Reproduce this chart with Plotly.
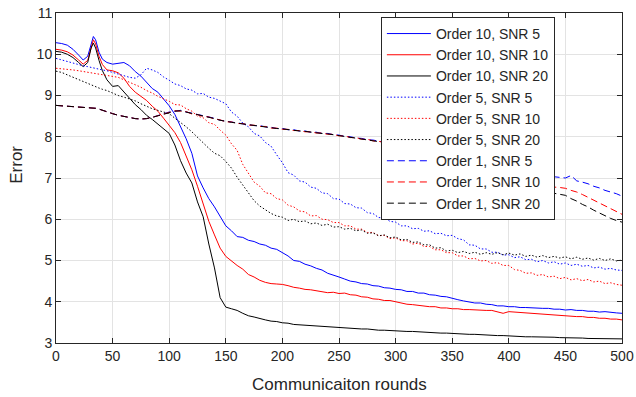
import plotly.graph_objects as go

# ---------------- data ----------------
rounds = [0, 5, 10, 15, 20, 24, 28, 31, 33, 35, 38, 41, 45] + list(range(50, 505, 5))

o10_snr5 = [10.28, 10.26, 10.22, 10.12, 9.98, 9.86, 9.95, 10.25, 10.43, 10.35, 10.05, 9.88, 9.80,
            9.76, 9.78, 9.80, 9.72, 9.58, 9.47, 9.32, 9.17, 9.08, 8.92,
            8.75, 8.54, 8.24, 7.95, 7.60, 7.05, 6.76, 6.50, 6.30, 6.06,
            5.84, 5.72, 5.58, 5.56, 5.49, 5.46, 5.40, 5.37, 5.30, 5.27,
            5.19, 5.11, 5.00, 4.98, 4.91, 4.87, 4.81, 4.77, 4.69, 4.65,
            4.60, 4.55, 4.50, 4.48, 4.44, 4.43, 4.39, 4.38, 4.34, 4.33,
            4.30, 4.29, 4.25, 4.25, 4.21, 4.21, 4.17, 4.16, 4.13, 4.12,
            4.08, 4.05, 4.02, 4.00, 3.97, 3.97, 3.94, 3.93, 3.90, 3.90,
            3.88, 3.88, 3.86, 3.86, 3.85, 3.85, 3.84, 3.84, 3.82, 3.82,
            3.80, 3.81, 3.79, 3.79, 3.77, 3.77, 3.75, 3.76, 3.74, 3.73,
            3.72]

o10_snr10 = [10.12, 10.10, 10.06, 9.98, 9.86, 9.76, 9.85, 10.18, 10.35, 10.25, 9.95, 9.75, 9.62,
             9.60, 9.55, 9.42, 9.22, 9.08, 8.98, 8.88, 8.74, 8.62, 8.45,
             8.28, 8.10, 7.86, 7.55, 7.20, 6.80, 6.36, 5.95, 5.62, 5.30,
             5.10, 4.98, 4.88, 4.79, 4.66, 4.60, 4.52, 4.47, 4.44, 4.43,
             4.42, 4.39, 4.35, 4.33, 4.30, 4.29, 4.27, 4.25, 4.22, 4.23,
             4.20, 4.21, 4.17, 4.16, 4.12, 4.11, 4.07, 4.06, 4.03, 4.03,
             4.00, 3.98, 3.94, 3.93, 3.91, 3.90, 3.88, 3.88, 3.85, 3.85,
             3.83, 3.83, 3.81, 3.81, 3.80, 3.80, 3.79, 3.79, 3.76, 3.72,
             3.76, 3.75, 3.74, 3.73, 3.71, 3.71, 3.69, 3.69, 3.67, 3.67,
             3.65, 3.65, 3.64, 3.64, 3.62, 3.62, 3.60, 3.60, 3.58, 3.58,
             3.56]

o10_snr20 = [10.07, 10.05, 10.00, 9.92, 9.80, 9.70, 9.80, 10.15, 10.27, 10.15, 9.85, 9.60, 9.38,
             9.22, 9.24, 9.08, 8.92, 8.78, 8.66, 8.52, 8.42, 8.30, 8.20,
             8.08, 7.80, 7.42, 7.12, 6.88, 6.42, 6.06, 5.40, 4.82, 4.10,
             3.87, 3.83, 3.79, 3.72, 3.66, 3.63, 3.59, 3.56, 3.53, 3.52,
             3.49, 3.48, 3.45, 3.44, 3.43, 3.43, 3.41, 3.40, 3.39, 3.39,
             3.37, 3.36, 3.36, 3.35, 3.34, 3.34, 3.32, 3.31, 3.31, 3.30,
             3.30, 3.29, 3.28, 3.28, 3.27, 3.26, 3.26, 3.25, 3.24, 3.24,
             3.23, 3.22, 3.22, 3.21, 3.21, 3.20, 3.20, 3.19, 3.18, 3.18,
             3.17, 3.16, 3.16, 3.15, 3.15, 3.15, 3.14, 3.14, 3.14, 3.13,
             3.13, 3.12, 3.12, 3.12, 3.11, 3.11, 3.11, 3.11, 3.10, 3.10,
             3.10]

o5_snr5 = [9.90, 9.86, 9.82, 9.78, 9.74, 9.72, 9.70, 9.68, 9.66, 9.65, 9.63, 9.62, 9.60,
           9.56, 9.52, 9.48, 9.44, 9.42, 9.50, 9.66, 9.62, 9.56, 9.45,
           9.37, 9.28, 9.24, 9.16, 9.13, 9.04, 9.05, 8.96, 8.93, 8.86,
           8.80, 8.60, 8.50, 8.33, 8.24, 8.08, 8.02, 7.86, 7.77, 7.56,
           7.37, 7.13, 7.07, 6.93, 6.90, 6.78, 6.75, 6.64, 6.62, 6.50,
           6.49, 6.38, 6.37, 6.28, 6.27, 6.16, 6.14, 6.04, 6.04, 5.95,
           5.93, 5.84, 5.84, 5.77, 5.78, 5.71, 5.72, 5.65, 5.66, 5.60,
           5.61, 5.53, 5.50, 5.38, 5.37, 5.28, 5.28, 5.20, 5.20, 5.13,
           5.14, 5.07, 5.09, 5.02, 5.03, 4.97, 5.00, 4.94, 4.97, 4.91,
           4.94, 4.88, 4.91, 4.86, 4.88, 4.82, 4.84, 4.79, 4.81, 4.77,
           4.76]

o5_snr10 = [9.66, 9.65, 9.63, 9.62, 9.60, 9.58, 9.56, 9.55, 9.54, 9.53, 9.51, 9.50, 9.48,
            9.46, 9.44, 9.38, 9.32, 9.26, 9.20, 9.12, 9.06, 8.98, 8.92,
            8.86, 8.78, 8.77, 8.68, 8.62, 8.50, 8.46, 8.34, 8.30, 8.16,
            8.04, 7.83, 7.67, 7.33, 7.12, 6.90, 6.80, 6.64, 6.62, 6.50,
            6.47, 6.34, 6.30, 6.20, 6.18, 6.08, 6.09, 6.00, 5.99, 5.92,
            5.92, 5.84, 5.84, 5.76, 5.76, 5.68, 5.68, 5.60, 5.61, 5.53,
            5.55, 5.48, 5.48, 5.40, 5.42, 5.34, 5.34, 5.26, 5.26, 5.19,
            5.19, 5.11, 5.11, 5.04, 5.05, 4.99, 5.00, 4.93, 4.95, 4.88,
            4.88, 4.78, 4.76, 4.69, 4.70, 4.64, 4.66, 4.60, 4.62, 4.56,
            4.59, 4.53, 4.56, 4.51, 4.54, 4.48, 4.50, 4.44, 4.46, 4.42,
            4.40]

o5_snr20 = [9.59, 9.56, 9.50, 9.44, 9.38, 9.33, 9.30, 9.26, 9.23, 9.21, 9.18, 9.15, 9.12,
            9.06, 9.00, 8.96, 8.92, 8.87, 8.80, 8.74, 8.68, 8.64, 8.60,
            8.56, 8.45, 8.35, 8.24, 8.12, 7.98, 7.84, 7.72, 7.60, 7.54,
            7.40, 7.24, 7.02, 6.82, 6.62, 6.45, 6.32, 6.23, 6.14, 6.08,
            6.05, 5.97, 6.00, 5.94, 5.96, 5.89, 5.91, 5.85, 5.88, 5.81,
            5.82, 5.76, 5.78, 5.72, 5.74, 5.66, 5.67, 5.60, 5.62, 5.55,
            5.57, 5.50, 5.51, 5.44, 5.45, 5.38, 5.38, 5.30, 5.31, 5.23,
            5.25, 5.19, 5.22, 5.17, 5.20, 5.15, 5.19, 5.15, 5.19, 5.14,
            5.18, 5.13, 5.16, 5.10, 5.13, 5.08, 5.12, 5.07, 5.10, 5.06,
            5.09, 5.04, 5.08, 5.03, 5.06, 5.01, 5.05, 5.00, 5.04, 4.99,
            5.01]

o1_snr5 = [8.76, 8.75, 8.74, 8.73, 8.72, 8.71, 8.71, 8.71, 8.70, 8.69, 8.67, 8.64, 8.60,
           8.56, 8.52, 8.49, 8.46, 8.44, 8.43, 8.44, 8.47, 8.51, 8.55,
           8.60, 8.62, 8.64, 8.60, 8.57, 8.53, 8.51, 8.47, 8.45, 8.40,
           8.38, 8.35, 8.34, 8.31, 8.30, 8.27, 8.27, 8.24, 8.23, 8.20,
           8.20, 8.17, 8.17, 8.14, 8.14, 8.11, 8.11, 8.08, 8.08, 8.05,
           8.04, 8.01, 8.00, 7.97, 7.96, 7.93, 7.92, 7.89, 7.87, 7.85,
           7.83, 7.80, 7.78, 7.75, 7.73, 7.70, 7.67, 7.64, 7.62, 7.59,
           7.56, 7.53, 7.50, 7.47, 7.44, 7.41, 7.38, 7.35, 7.32, 7.29,
           7.26, 7.23, 7.20, 7.17, 7.14, 7.11, 7.08, 7.05, 7.03, 7.02,
           7.00, 7.06, 6.93, 6.90, 6.86, 6.80, 6.76, 6.70, 6.66, 6.62,
           6.56]

o1_snr10 = [8.76, 8.75, 8.74, 8.73, 8.72, 8.71, 8.71, 8.71, 8.70, 8.69, 8.67, 8.64, 8.60,
            8.56, 8.52, 8.49, 8.46, 8.44, 8.43, 8.44, 8.47, 8.51, 8.55,
            8.58, 8.63, 8.62, 8.61, 8.55, 8.54, 8.49, 8.48, 8.43, 8.41,
            8.36, 8.36, 8.32, 8.32, 8.28, 8.28, 8.25, 8.25, 8.21, 8.21,
            8.18, 8.18, 8.15, 8.15, 8.12, 8.12, 8.09, 8.09, 8.06, 8.06,
            8.02, 8.02, 7.98, 7.98, 7.94, 7.94, 7.90, 7.89, 7.86, 7.83,
            7.80, 7.76, 7.72, 7.68, 7.64, 7.60, 7.56, 7.52, 7.48, 7.44,
            7.40, 7.36, 7.32, 7.28, 7.24, 7.20, 7.16, 7.12, 7.08, 7.04,
            7.01, 6.98, 6.95, 6.92, 6.89, 6.86, 6.83, 6.80, 6.78, 6.77,
            6.75, 6.70, 6.66, 6.60, 6.53, 6.47, 6.40, 6.33, 6.26, 6.19,
            6.12]

o1_snr20 = [8.76, 8.75, 8.74, 8.73, 8.72, 8.71, 8.71, 8.71, 8.70, 8.69, 8.67, 8.64, 8.60,
            8.56, 8.52, 8.49, 8.46, 8.44, 8.43, 8.44, 8.47, 8.51, 8.55,
            8.59, 8.62, 8.63, 8.60, 8.56, 8.53, 8.50, 8.47, 8.44, 8.40,
            8.37, 8.35, 8.33, 8.31, 8.29, 8.27, 8.26, 8.24, 8.22, 8.20,
            8.19, 8.17, 8.16, 8.14, 8.13, 8.11, 8.10, 8.08, 8.07, 8.05,
            8.03, 8.01, 7.99, 7.97, 7.95, 7.93, 7.91, 7.89, 7.86, 7.82,
            7.78, 7.74, 7.70, 7.65, 7.61, 7.57, 7.52, 7.48, 7.44, 7.39,
            7.35, 7.31, 7.26, 7.22, 7.18, 7.14, 7.10, 7.05, 7.01, 6.97,
            6.93, 6.89, 6.85, 6.81, 6.77, 6.73, 6.69, 6.66, 6.63, 6.60,
            6.58, 6.50, 6.44, 6.36, 6.30, 6.22, 6.15, 6.08, 6.02, 5.97,
            5.93]

series_names = ["Order 10, SNR 5", "Order 10, SNR 10", "Order 10, SNR 20",
                "Order 5, SNR 5", "Order 5, SNR 10", "Order 5, SNR 20",
                "Order 1, SNR 5", "Order 1, SNR 10", "Order 1, SNR 20"]
series_values = [o10_snr5, o10_snr10, o10_snr20,
                 o5_snr5, o5_snr10, o5_snr20,
                 o1_snr5, o1_snr10, o1_snr20]

x_ticks = [0, 50, 100, 150, 200, 250, 300, 350, 400, 450, 500]
y_ticks = [3, 4, 5, 6, 7, 8, 9, 10, 11]

# ---------------- style ----------------
colors = ["#0000ff", "#ff0000", "#000000"] * 3
dashes = ["solid"] * 3 + ["1.5px,2px"] * 3 + ["7px,4px"] * 3
FONT = "Liberation Sans, Arial, Helvetica, sans-serif"
DARK = "#262626"

fig = go.Figure()
for i, (name, vals) in enumerate(zip(series_names, series_values)):
    fig.add_trace(go.Scatter(
        x=rounds, y=vals, mode="lines", name=name, legendgroup=f"g{i}",
        line=dict(color=colors[i], width=1, dash=dashes[i]),
    ))

axis_common = dict(
    showline=True, linecolor=DARK, linewidth=1, mirror="allticks",
    ticks="inside", ticklen=5, tickcolor=DARK, tickwidth=1,
    showgrid=True, gridcolor="#e3e3e3", gridwidth=1, zeroline=False,
    automargin=False,
    tickfont=dict(family=FONT, size=14, color=DARK),
)

fig.update_layout(
    width=636, height=397,
    margin=dict(l=56, r=14, t=13, b=54, autoexpand=False),
    paper_bgcolor="white", plot_bgcolor="white",
    font=dict(family=FONT, color=DARK),
    xaxis=dict(range=[0, 500], tickvals=x_ticks, **axis_common),
    yaxis=dict(range=[3, 11], tickvals=y_ticks, **axis_common),
    legend=dict(
        x=0.574, y=0.988, xanchor="left", yanchor="top",
        bgcolor="white", bordercolor=DARK, borderwidth=1,
        font=dict(family=FONT, size=14, color=DARK),
        tracegroupgap=0, itemwidth=44,
    ),
    showlegend=True,
    annotations=[
        dict(text="Communicaiton rounds", xref="paper", yref="paper",
             x=0.5, y=-0.127, xanchor="center", yanchor="middle",
             showarrow=False, font=dict(family=FONT, size=17, color=DARK)),
        dict(text="Error", xref="paper", yref="paper",
             x=-0.069, y=0.54, xanchor="center", yanchor="middle", textangle=-90,
             showarrow=False, font=dict(family=FONT, size=17, color=DARK)),
    ],
)

fig.write_html(
    "out.html",
    config={"displayModeBar": False, "staticPlot": True},
    post_script="document.body.style.margin='0';document.body.style.overflow='hidden';",
)
